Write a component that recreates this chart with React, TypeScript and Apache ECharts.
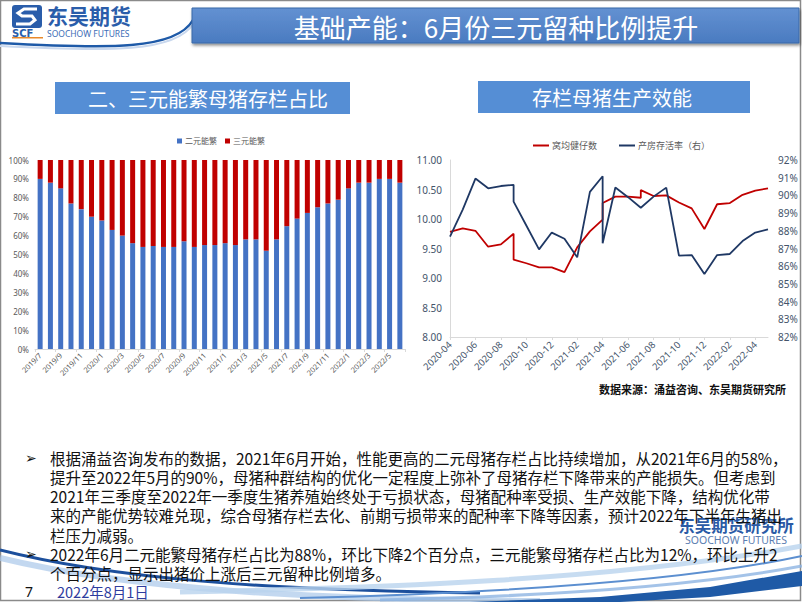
import React, { useEffect, useRef } from 'react';
import * as echarts from 'echarts';

// ---------- data: left chart (二元/三元能繁母猪占比) ----------
const barMonths = [
  '2019/7', '2019/8', '2019/9', '2019/10', '2019/11', '2019/12',
  '2020/1', '2020/2', '2020/3', '2020/4', '2020/5', '2020/6',
  '2020/7', '2020/8', '2020/9', '2020/10', '2020/11', '2020/12',
  '2021/1', '2021/2', '2021/3', '2021/4', '2021/5', '2021/6',
  '2021/7', '2021/8', '2021/9', '2021/10', '2021/11', '2021/12',
  '2022/1', '2022/2', '2022/3', '2022/4', '2022/5', '2022/6',
];
const binaryShare = [
  90, 88, 85, 77, 74, 70, 68, 63, 60, 56, 54, 54.5,
  54, 54, 57, 54, 55, 55, 56, 55, 58, 58, 52, 58,
  65, 69, 72, 75, 77, 79, 85, 88, 88, 90, 90, 88,
];
const ternaryShare = [
  10, 12, 15, 23, 26, 30, 32, 37, 40, 44, 46, 45.5,
  46, 46, 43, 46, 45, 45, 44, 45, 42, 42, 48, 42,
  35, 31, 28, 25, 23, 21, 15, 12, 12, 10, 10, 12,
];

// ---------- data: right chart (存栏母猪生产效能) ----------
const lineMonths = [
  '2020-04', '2020-05', '2020-06', '2020-07', '2020-08', '2020-09',
  '2020-10', '2020-11', '2020-12', '2021-01', '2021-02', '2021-03',
  '2021-04', '2021-05', '2021-06', '2021-07', '2021-08', '2021-09',
  '2021-10', '2021-11', '2021-12', '2022-01', '2022-02', '2022-03',
  '2022-04', '2022-05',
];
const litterSize: [string, number][] = [
  ['2020-04', 9.78], ['2020-05', 9.84], ['2020-06', 9.8], ['2020-07', 9.53],
  ['2020-08', 9.57], ['2020-09', 9.75], ['2020-09', 9.31], ['2020-10', 9.25],
  ['2020-11', 9.18], ['2020-12', 9.18], ['2021-01', 9.1], ['2021-02', 9.52],
  ['2021-03', 9.79], ['2021-04', 9.99], ['2021-04', 10.27], ['2021-05', 10.38],
  ['2021-06', 10.38], ['2021-07', 10.36], ['2021-07', 10.49], ['2021-08', 10.39],
  ['2021-09', 10.4], ['2021-10', 10.28], ['2021-11', 10.18], ['2021-12', 9.83],
  ['2022-01', 10.25], ['2022-02', 10.27], ['2022-03', 10.41], ['2022-04', 10.48],
  ['2022-05', 10.52],
];
const survivalRate: [string, number][] = [
  ['2020-04', 87.67], ['2020-05', 89.2], ['2020-06', 90.95], ['2020-07', 90.4],
  ['2020-08', 90.53], ['2020-09', 90.6], ['2020-09', 89.65], ['2020-10', 88.3],
  ['2020-11', 86.95], ['2020-12', 87.9], ['2021-01', 87.55], ['2021-02', 86.5],
  ['2021-03', 90.2], ['2021-04', 91.08], ['2021-04', 87.3], ['2021-05', 90.45],
  ['2021-06', 89.9], ['2021-07', 89.3], ['2021-08', 89.93], ['2021-09', 90.44],
  ['2021-10', 86.6], ['2021-11', 86.63], ['2021-12', 85.56], ['2022-01', 86.63],
  ['2022-02', 86.69], ['2022-03', 87.42], ['2022-04', 87.9], ['2022-05', 88.08],
];

// ---------- texts ----------
const slideTitle = '基础产能：6月份三元留种比例提升';
const leftTitle = '二、三元能繁母猪存栏占比';
const rightTitle = '存栏母猪生产效能';
const sourceNote = '数据来源：涌益咨询、东吴期货研究所';
const bulletLines = [
  '根据涌益咨询发布的数据，2021年6月开始，性能更高的二元母猪存栏占比持续增加，从2021年6月的58%，',
  '提升至2022年5月的90%，母猪种群结构的优化一定程度上弥补了母猪存栏下降带来的产能损失。但考虑到',
  '2021年三季度至2022年一季度生猪养殖始终处于亏损状态，母猪配种率受损、生产效能下降，结构优化带',
  '来的产能优势较难兑现，综合母猪存栏去化、前期亏损带来的配种率下降等因素，预计2022年下半年生猪出',
  '栏压力减弱。',
  '2022年6月二元能繁母猪存栏占比为88%，环比下降2个百分点，三元能繁母猪存栏占比为12%，环比上升2',
  '个百分点，显示出猪价上涨后三元留种比例增多。',
];
const bulletStarts = [0, 5];

const CJK = '"Noto Sans CJK SC", "Noto Sans", sans-serif';
const LAT = '"Noto Sans", "Noto Sans CJK SC", sans-serif';

export default function App() {
  const ref = useRef<HTMLDivElement>(null);

  useEffect(() => {
    document.body.style.margin = '0';
    if (!ref.current) return;
    const chart = echarts.init(ref.current, undefined, { renderer: 'svg' });

    const lineY = [458, 477, 496, 515, 535, 554, 573];
    const bulletGraphics: any[] = [];
    bulletLines.forEach((t, i) => {
      bulletGraphics.push({
        type: 'text', x: 50, y: lineY[i], z: 20,
        style: { text: t, fill: '#111', fontSize: 15.5, fontFamily: CJK, align: 'left', verticalAlign: 'middle' },
      });
      if (bulletStarts.includes(i)) {
        bulletGraphics.push({
          type: 'text', x: 25, y: lineY[i], z: 20,
          style: { text: '➢', fill: '#111', fontSize: 14, fontFamily: '"DejaVu Sans", sans-serif', align: 'left', verticalAlign: 'middle' },
        });
      }
    });

    const graphics: any[] = [
      // slide frame
      { type: 'rect', z: 0, shape: { x: 0.5, y: 0.5, width: 800, height: 600 }, style: { fill: 'none', stroke: '#8a8a8a', lineWidth: 1.5 } },
      // header curve under logo
      { type: 'bezierCurve', z: 1, shape: { x1: 0, y1: 43, cpx1: 110, cpy1: 49, cpx2: 176, cpy2: 50, x2: 193, y2: 20 }, style: { stroke: '#1E5AA8', lineWidth: 2.5, fill: 'none' } },
      { type: 'bezierCurve', z: 1, shape: { x1: 0, y1: 46, cpx1: 110, cpy1: 52, cpx2: 176, cpy2: 52, x2: 193, y2: 24 }, style: { stroke: '#C9D8EE', lineWidth: 2, fill: 'none' } },
      // title bar
      {
        type: 'rect', z: 2, shape: { x: 192, y: 8, width: 607, height: 35 },
        style: {
          fill: new echarts.graphic.LinearGradient(0, 0, 0, 1, [
            { offset: 0, color: '#6391D2' }, { offset: 1, color: '#4A7BC0' },
          ]),
          stroke: '#3A68A8', lineWidth: 1,
          shadowBlur: 3, shadowColor: 'rgba(0,0,0,0.45)', shadowOffsetX: 1, shadowOffsetY: 2,
        },
      },
      { type: 'text', z: 3, x: 496, y: 26, style: { text: slideTitle, fill: '#fff', fontSize: 26, fontFamily: CJK, align: 'center', verticalAlign: 'middle' } },
      // logo
      { type: 'rect', z: 2, shape: { x: 12, y: 5, width: 30, height: 23, r: 3 }, style: { fill: '#2A5DAA' } },
      { type: 'polyline', z: 3, shape: { points: [[37, 9], [24, 9], [18, 13], [22, 16], [32, 16], [35, 20], [30, 24], [16, 24]] }, style: { stroke: '#fff', lineWidth: 3, fill: 'none' } },
      { type: 'text', z: 3, x: 12, y: 33, style: { text: 'SCF', fill: '#2A5DAA', fontSize: 10, fontWeight: 'bold', fontFamily: '"DejaVu Sans", sans-serif', align: 'left', verticalAlign: 'middle' } },
      { type: 'rect', z: 3, shape: { x: 12, y: 37, width: 31, height: 1.5 }, style: { fill: '#E8892B' } },
      { type: 'text', z: 3, x: 47, y: 15, style: { text: '东吴期货', fill: '#2A5DAA', fontSize: 21, fontWeight: 'bold', fontFamily: CJK, align: 'left', verticalAlign: 'middle' } },
      { type: 'text', z: 3, x: 47, y: 33, style: { text: 'SOOCHOW FUTURES', fill: '#3D6DB6', fontSize: 8.5, fontFamily: LAT, align: 'left', verticalAlign: 'middle' } },
      // chart title boxes
      { type: 'rect', z: 2, shape: { x: 55, y: 82, width: 295, height: 32 }, style: { fill: '#558ED5' } },
      { type: 'text', z: 3, x: 208, y: 98, style: { text: leftTitle, fill: '#fff', fontSize: 20, fontFamily: CJK, align: 'center', verticalAlign: 'middle' } },
      { type: 'rect', z: 2, shape: { x: 478, y: 81, width: 272, height: 32 }, style: { fill: '#558ED5' } },
      { type: 'text', z: 3, x: 612, y: 97, style: { text: rightTitle, fill: '#fff', fontSize: 20, fontFamily: CJK, align: 'center', verticalAlign: 'middle' } },
      // source note
      { type: 'text', z: 3, x: 786, y: 389, style: { text: sourceNote, fill: '#111', fontSize: 11, fontWeight: 'bold', fontFamily: CJK, align: 'right', verticalAlign: 'middle' } },
      // bottom swooshes
      { type: 'bezierCurve', z: 1, shape: { x1: 0, y1: 558, cpx1: 130, cpy1: 590, cpx2: 320, cpy2: 600, x2: 540, y2: 601 }, style: { stroke: '#A9C8EA', lineWidth: 6, opacity: 0.7, fill: 'none' } },
      { type: 'bezierCurve', z: 1, shape: { x1: 0, y1: 550, cpx1: 110, cpy1: 578, cpx2: 260, cpy2: 590, x2: 480, y2: 593 }, style: { stroke: '#1C4F9C', lineWidth: 3, fill: 'none' } },
      { type: 'bezierCurve', z: 1, shape: { x1: 180, y1: 592, cpx1: 380, cpy1: 588, cpx2: 620, cpy2: 580, x2: 802, y2: 546 }, style: { stroke: '#B9D3EE', lineWidth: 5, opacity: 0.8, fill: 'none' } },
      { type: 'bezierCurve', z: 1, shape: { x1: 300, y1: 598, cpx1: 540, cpy1: 592, cpx2: 700, cpy2: 578, x2: 802, y2: 556 }, style: { stroke: '#5C8FD0', lineWidth: 2, fill: 'none' } },
      { type: 'bezierCurve', z: 1, shape: { x1: 380, y1: 600, cpx1: 560, cpy1: 596, cpx2: 700, cpy2: 585, x2: 802, y2: 566 }, style: { stroke: '#8DB4E2', lineWidth: 3, opacity: 0.8, fill: 'none' } },
      { type: 'polygon', z: 1, shape: { points: [[470, 602], [600, 597], [710, 587], [802, 571], [802, 586], [710, 597], [620, 602]] }, style: { fill: '#1F5AA6' } },
      // bottom right logo
      { type: 'text', z: 4, x: 736, y: 525, style: { text: '东吴期货研究所', fill: '#2B5BA6', fontSize: 16.5, fontWeight: 'bold', fontFamily: CJK, align: 'center', verticalAlign: 'middle' } },
      { type: 'text', z: 4, x: 736, y: 540, style: { text: 'SOOCHOW FUTURES', fill: '#5B7DB1', fontSize: 10.5, fontFamily: LAT, align: 'center', verticalAlign: 'middle' } },
      // footer
      { type: 'text', z: 20, x: 25, y: 591, style: { text: '7', fill: '#111', fontSize: 14, fontFamily: LAT, align: 'left', verticalAlign: 'middle' } },
      { type: 'text', z: 20, x: 57, y: 591, style: { text: '2022年8月1日', fill: '#2E3C9E', fontSize: 14.5, fontFamily: CJK, align: 'left', verticalAlign: 'middle' } },
      ...bulletGraphics,
    ];

    const idx = (m: string) => lineMonths.indexOf(m);

    chart.setOption({
      animation: false,
      backgroundColor: '#ffffff',
      textStyle: { fontFamily: CJK },
      graphic: { elements: graphics },
      legend: [
        {
          data: ['二元能繁', '三元能繁'], left: 177, top: 137, icon: 'rect',
          itemWidth: 5, itemHeight: 5, itemGap: 8, padding: 0,
          textStyle: { fontSize: 8, color: '#595959', padding: [0, 0, 0, -2] },
        },
        {
          data: ['窝均健仔数', '产房存活率（右）'], left: 533, top: 141, icon: 'rect',
          itemWidth: 16, itemHeight: 2, itemGap: 22, padding: 0,
          textStyle: { fontSize: 9, color: '#595959', padding: [0, 0, 0, -2] },
        },
      ],
      grid: [
        { left: 35, top: 160, width: 370, height: 189 },
        { left: 450, top: 160, width: 318, height: 177 },
      ],
      xAxis: [
        {
          type: 'category', gridIndex: 0, data: barMonths,
          axisLine: { lineStyle: { color: '#D9D9D9' } },
          axisTick: { show: true, interval: 1, length: 3, lineStyle: { color: '#D9D9D9' } },
          axisLabel: { interval: 1, rotate: 45, fontSize: 7.5, color: '#595959', margin: 5, fontFamily: LAT },
        },
        {
          type: 'value', gridIndex: 1, min: 0, max: 25, interval: 2,
          splitLine: { show: false },
          axisLine: { lineStyle: { color: '#D9D9D9' } },
          axisTick: { show: true, length: 3, lineStyle: { color: '#D9D9D9' } },
          axisLabel: {
            rotate: 45, fontSize: 9.5, color: '#44546A', margin: 6, fontFamily: LAT, showMaxLabel: false,
            formatter: (v: number) => (Number.isInteger(v) && v % 2 === 0 ? lineMonths[v] : ''),
          },
        },
      ],
      yAxis: [
        {
          type: 'value', gridIndex: 0, min: 0, max: 100, interval: 10,
          splitLine: { show: false }, axisLine: { show: false }, axisTick: { show: false },
          axisLabel: { formatter: '{value}%', fontSize: 8, color: '#595959', margin: 6, fontFamily: LAT },
        },
        {
          type: 'value', gridIndex: 1, min: 8, max: 11, interval: 0.5,
          splitLine: { show: false },
          axisLine: { show: true, lineStyle: { color: '#D9D9D9' } }, axisTick: { show: false },
          axisLabel: { formatter: (v: number) => v.toFixed(2), fontSize: 10, color: '#44546A', margin: 8, fontFamily: LAT },
        },
        {
          type: 'value', gridIndex: 1, position: 'right', min: 82, max: 92, interval: 1,
          splitLine: { show: false }, axisLine: { show: false }, axisTick: { show: false },
          axisLabel: { formatter: '{value}%', fontSize: 10, color: '#44546A', margin: 10, fontFamily: LAT },
        },
      ],
      series: [
        {
          name: '二元能繁', type: 'bar', stack: 'share', xAxisIndex: 0, yAxisIndex: 0,
          data: binaryShare, barWidth: 5, itemStyle: { color: '#4472C4' },
        },
        {
          name: '三元能繁', type: 'bar', stack: 'share', xAxisIndex: 0, yAxisIndex: 0,
          data: ternaryShare, barWidth: 5, itemStyle: { color: '#C00000' },
        },
        {
          name: '窝均健仔数', type: 'line', xAxisIndex: 1, yAxisIndex: 1,
          data: litterSize.map(([m, v]) => [idx(m), v]),
          showSymbol: false, symbol: 'none', lineStyle: { color: '#C00000', width: 1.8 }, itemStyle: { color: '#C00000' },
        },
        {
          name: '产房存活率（右）', type: 'line', xAxisIndex: 1, yAxisIndex: 2,
          data: survivalRate.map(([m, v]) => [idx(m), v]),
          showSymbol: false, symbol: 'none', lineStyle: { color: '#1F3864', width: 1.8 }, itemStyle: { color: '#1F3864' },
        },
      ],
    });

    return () => chart.dispose();
  }, []);

  return <div ref={ref} style={{ width: 802, height: 602 }} />;
}
